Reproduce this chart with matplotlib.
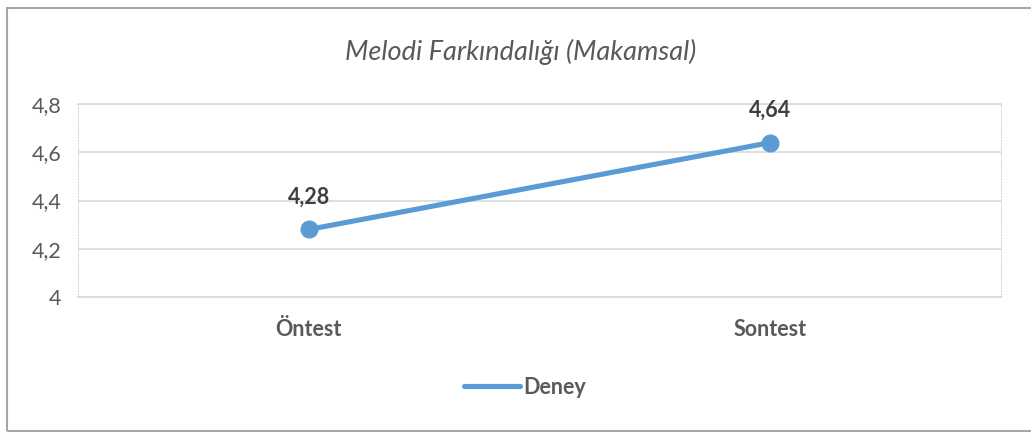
import matplotlib
matplotlib.use('Agg')
import matplotlib.pyplot as plt
from matplotlib.patches import Rectangle
from matplotlib.ticker import FuncFormatter

# veriler
kategoriler = ['Öntest', 'Sontest']
deney = [4.28, 4.64]
y_ticks = [4.0, 4.2, 4.4, 4.6, 4.8]

plt.rcParams['font.family'] = ['Lato', 'DejaVu Sans']

W, H = 1031, 433
fig = plt.figure(figsize=(W / 100, H / 100), dpi=100)
ax = fig.add_axes([78 / W, 1 - 297 / H, (1001 - 78) / W, (297 - 104) / H])

blue = '#5B9BD5'
ax.plot(range(len(kategoriler)), deney, color=blue, lw=3.7, marker='o', ms=12,
        solid_capstyle='round', label='Deney', zorder=3)
for i, v in enumerate(deney):
    ax.annotate('{:.2f}'.format(v).replace('.', ','), (i, v), xytext=(0, 23.5),
                textcoords='offset points', ha='center', va='center',
                fontsize=15.5, fontweight='bold', color='#404040')

ax.set_xlim(-0.5, len(kategoriler) - 0.5)
ax.set_ylim(4.0, 4.8)
ax.set_yticks(y_ticks)
ax.yaxis.set_major_formatter(FuncFormatter(lambda v, p: ('%g' % v).replace('.', ',')))
ax.set_xticks(range(len(kategoriler)))
ax.set_xticklabels(kategoriler, fontsize=15.5, fontweight='bold', color='#595959')
ax.tick_params(axis='y', labelsize=15.5, labelcolor='#595959', length=0, pad=12)
ax.tick_params(axis='x', length=0, pad=16)
ax.grid(axis='y', color='#d9d9d9', lw=1.2)
ax.set_axisbelow(True)
for s in ['left', 'right']:
    ax.spines[s].set_color('#d9d9d9')
    ax.spines[s].set_linestyle(':')
for s in ['top', 'bottom']:
    ax.spines[s].set_color('#d9d9d9')
    ax.spines[s].set_linewidth(1.2)

fig.text(521 / W, 1 - 52 / H, 'Melodi Farkındalığı (Makamsal)', ha='center', va='center',
         fontsize=19.5, style='italic', color='#595959')

leg = fig.legend(loc='center', bbox_to_anchor=(525 / W, 1 - 387 / H), frameon=False,
                 handlelength=2.6, handletextpad=0.15, prop={'size': 15.5, 'weight': 'bold'})
for t in leg.get_texts():
    t.set_color('#595959')
for h in leg.legend_handles:
    h.set_marker('')

fig.patches.append(Rectangle((7 / W, 1 - 431 / H), 1.1, (431 - 8) / H, transform=fig.transFigure,
                             fill=False, edgecolor='#a6a6a6', lw=1.5))

fig.savefig('out.png', dpi=100)
